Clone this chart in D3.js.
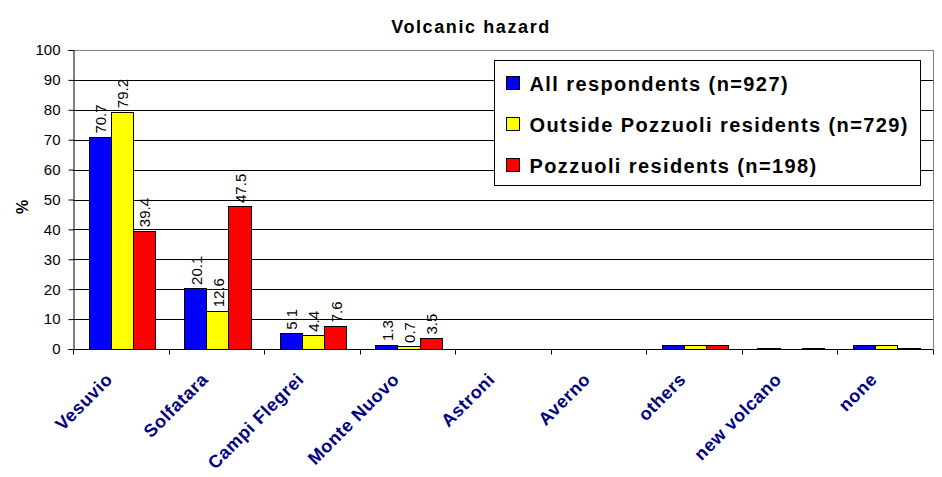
<!DOCTYPE html>
<html>
<head>
<meta charset="utf-8">
<script src="https://cdn.jsdelivr.net/npm/d3@7"></script>
<style>
  body { margin: 0; background: #fff; }
  text { font-family: Arial, "Liberation Sans", sans-serif; }
</style>
</head>
<body>
<svg id="chart" width="942" height="477"></svg>
<script>
// categories and series
var categories = ["Vesuvio", "Solfatara", "Campi Flegrei", "Monte Nuovo", "Astroni", "Averno", "others", "new volcano", "none"];
var seriesNames = ["All respondents (n=927)", "Outside Pozzuoli residents (n=729)", "Pozzuoli residents (n=198)"];
var seriesColors = ["#0000ff", "#ffff00", "#ff0000"];
var allResp = [70.7, 20.1, 5.1, 1.3, 0, 0, 1.2, 0.2, 1.2];
var outside = [79.2, 12.6, 4.4, 0.7, 0, 0, 1.2, 0, 1.2];
var pozzuoli = [39.4, 47.5, 7.6, 3.5, 0, 0, 1.2, 0.2, 0.2];
// which categories carry value labels
var labelled = [true, true, true, true, false, false, false, false, false];
var yTicks = [0, 10, 20, 30, 40, 50, 60, 70, 80, 90, 100];

var series = [allResp, outside, pozzuoli];

var svg = d3.select("#chart");
var plotL = 73, plotR = 933, plotT = 50, plotB = 349;

var x = d3.scaleBand().domain(categories).range([plotL, plotR]).paddingInner(0).paddingOuter(0);
var xInner = d3.scaleBand().domain([0, 1, 2]).range([16, x.bandwidth() - 13]);
var y = d3.scaleLinear().domain([0, 100]).range([plotB, plotT]);

// gridlines
svg.append("g").selectAll("line").data(yTicks.slice(1)).enter().append("line")
  .attr("x1", plotL).attr("x2", plotR)
  .attr("y1", d => Math.round(y(d)) + 0.5).attr("y2", d => Math.round(y(d)) + 0.5)
  .attr("stroke", d => d == 100 ? "#808080" : "#000").attr("stroke-width", 1);
// right border of plot area
svg.append("line").attr("x1", plotR + 0.5).attr("x2", plotR + 0.5).attr("y1", plotT).attr("y2", plotB)
  .attr("stroke", "#808080");

// bars
var groups = svg.append("g").selectAll("g").data(categories).enter().append("g")
  .attr("transform", d => "translate(" + x(d) + ",0)");

groups.each(function(c, ci) {
  var g = d3.select(this);
  series.forEach(function(s, si) {
    var v = s[ci];
    if (v <= 0) return;
    g.append("rect")
      .attr("x", xInner(si)).attr("width", xInner.bandwidth())
      .attr("y", y(v)).attr("height", y(0) - y(v))
      .attr("fill", seriesColors[si]).attr("stroke", "#000").attr("stroke-width", 1)
      .attr("shape-rendering", "crispEdges");
    if (labelled[ci]) {
      var lx = xInner(si) + xInner.bandwidth() / 2 + 6;
      var ly = y(v) - 4;
      g.append("text")
        .attr("transform", "translate(" + lx + "," + ly + ") rotate(-90)")
        .attr("font-size", "15px").attr("fill", "#000")
        .text(v.toFixed(1));
    }
  });
});

// y axis
var yAxis = d3.axisLeft(y).tickValues(yTicks).tickSize(5).tickPadding(8);
var ya = svg.append("g").attr("transform", "translate(" + (plotL + 0.5) + ",0)").call(yAxis);
ya.selectAll("text").attr("font-size", "15px").attr("fill", "#000")
  .style("font-family", "Arial, 'Liberation Sans', sans-serif");
ya.selectAll("line").attr("stroke", "#000");
ya.select(".domain").attr("stroke", "#000");

// x axis
var xa = svg.append("g").attr("transform", "translate(0," + (plotB + 0.5) + ")");
xa.append("line").attr("x1", plotL).attr("x2", plotR).attr("y1", 0).attr("y2", 0)
  .attr("stroke", "#000");
xa.selectAll("line.tick").data(d3.range(categories.length + 1)).enter().append("line")
  .attr("class", "tick")
  .attr("x1", i => Math.round(plotL + i * x.step()) + 0.5).attr("x2", i => Math.round(plotL + i * x.step()) + 0.5)
  .attr("y1", 0).attr("y2", 5).attr("stroke", "#000");
xa.selectAll("text").data(categories).enter().append("text")
  .attr("transform", d => "translate(" + (x(d) + x.bandwidth() / 2 - 7) + ",31) rotate(-45)")
  .attr("text-anchor", "end")
  .attr("font-size", "18px").attr("font-weight", "bold").attr("fill", "#000080")
  .attr("letter-spacing", "0.6px")
  .text(d => d);

// title
svg.append("text").attr("x", 471).attr("y", 33).attr("text-anchor", "middle")
  .attr("font-size", "18px").attr("font-weight", "bold").attr("letter-spacing", "1.6px")
  .text("Volcanic hazard");

// y label
svg.append("text").attr("transform", "translate(28,207) rotate(-90)")
  .attr("text-anchor", "middle").attr("font-size", "16px").attr("font-weight", "bold").text("%");

// legend
var legend = svg.append("g").attr("transform", "translate(494.5,60.5)");
legend.append("rect").attr("width", 426).attr("height", 125)
  .attr("fill", "#fff").attr("stroke", "#000").attr("stroke-width", 1);
seriesNames.forEach(function(n, i) {
  var ry = 23 + i * 41;
  legend.append("rect").attr("x", 12).attr("y", ry - 7).attr("width", 13).attr("height", 13)
    .attr("fill", seriesColors[i]).attr("stroke", "#000");
  legend.append("text").attr("x", 35).attr("y", ry + 7)
    .attr("font-size", "20px").attr("font-weight", "bold").attr("letter-spacing", "1.4px").text(n);
});
</script>
</body>
</html>
